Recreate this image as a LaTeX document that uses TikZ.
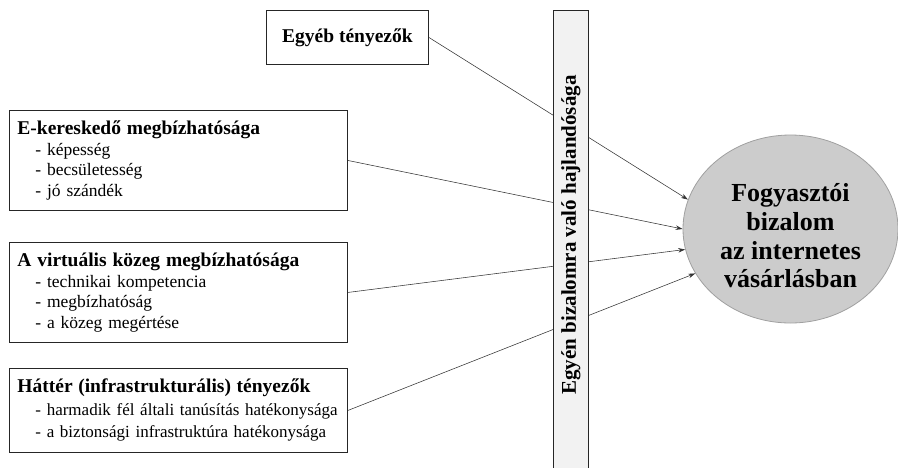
\documentclass[tikz,border=0pt]{standalone}
\usepackage{fontspec}
\setmainfont{Liberation Serif}
\usetikzlibrary{arrows.meta,shapes.geometric}
\definecolor{barfill}{RGB}{242,242,242}
\definecolor{ellfill}{RGB}{204,204,204}
\definecolor{ellline}{RGB}{160,160,160}
\tikzset{
  factorbox/.style={draw=black!85, line width=0.9pt, rectangle, align=left, anchor=north west,
    inner xsep=8pt, inner ysep=0pt, text width=322pt, font=\fontsize{17.5}{20.5}\selectfont},
  conn/.style={draw=black!80, line width=0.55pt, -{Stealth[length=7pt,width=4.5pt]}},
}
\newcommand{\hd}[1]{\mbox{\bfseries\fontsize{19.5}{22}\selectfont #1}}
\newcommand{\itm}[1]{\mbox{\hspace*{18pt}- #1}}
\begin{document}
\begin{tikzpicture}[x=1pt,y=-1pt]
\useasboundingbox (0,0) rectangle (898,467);
% boxes
\node[draw=black!85, line width=0.9pt, rectangle, anchor=north west, minimum width=162pt, minimum height=54pt, inner sep=0pt,
  font=\bfseries\fontsize{19.5}{22}\selectfont] (eg) at (266,10) {Egyéb tényezők};
\node[factorbox, minimum height=100pt] (ek) at (9,110)
  {\hd{E-kereskedő megbízhatósága}\\\itm{képesség}\\\itm{becsületesség}\\\itm{jó szándék}};
\node[factorbox, minimum height=100pt] (vk) at (9,242)
  {\hd{A virtuális közeg megbízhatósága}\\\itm{technikai kompetencia}\\\itm{megbízhatóság}\\\itm{a közeg megértése}};
\node[factorbox, minimum height=84pt, font=\fontsize{17}{22.5}\selectfont] (ht) at (9,368)
  {\hd{Háttér (infrastrukturális) tényezők}\\\itm{harmadik fél általi tanúsítás hatékonysága}\\\itm{a biztonsági infrastruktúra hatékonysága}};
% ellipse
\node[ellipse, draw=ellline, line width=0.8pt, fill=ellfill, minimum width=215pt, minimum height=188pt, inner sep=0pt] (ell) at (790.5,229) {};
\node[align=center, inner sep=0pt, font=\bfseries\fontsize{26}{28.7}\selectfont] (elltxt) at (790.5,236) {Fogyasztói\\bizalom\\az internetes\\vásárlásban};
% connectors
\draw[conn] (eg.east) -- (ell.164);
\draw[conn] (ek.east) -- (ell.180);
\draw[conn] (vk.east) -- (ell.191);
\draw[conn] (ht.east) -- (ell.205);
% vertical bar
\node[draw=black!85, line width=0.9pt, fill=barfill, rectangle, anchor=north west, minimum width=35pt, minimum height=470pt, inner sep=0pt] (bar) at (553,10) {};
\node[rotate=90, font=\bfseries\fontsize{21}{24}\selectfont] (bartxt) at (571,235) {Egyén bizalomra való hajlandósága};
\end{tikzpicture}
\end{document}
